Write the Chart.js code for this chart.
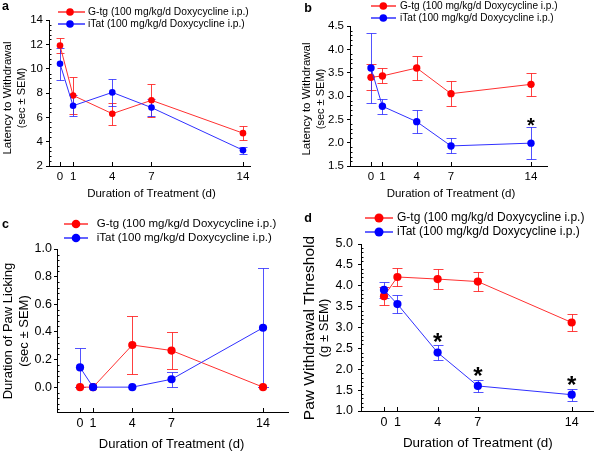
<!DOCTYPE html>
<html><head><meta charset="utf-8">
<script src="https://cdn.jsdelivr.net/npm/chart.js@4/dist/chart.umd.min.js"></script>
<style>
html,body{margin:0;padding:0;background:#fff;}
#wrap{position:relative;width:600px;height:453px;overflow:hidden;background:#fff;}
canvas{position:absolute;}
</style></head><body>
<div id="wrap">
<canvas id="pa" width="300" height="210" style="left:0;top:0"></canvas>
<canvas id="pb" width="300" height="210" style="left:300px;top:0"></canvas>
<canvas id="pc" width="300" height="243" style="left:0;top:210px"></canvas>
<canvas id="pd" width="300" height="243" style="left:300px;top:210px"></canvas>
</div>
<script>
// ---------- DATA ----------
const days = [0, 1, 4, 7, 14];
const seriesLabels = ['G-tg (100 mg/kg/d Doxycycline i.p.)', 'iTat (100 mg/kg/d Doxycycline i.p.)'];
const xTitle = 'Duration of Treatment (d)';

// a: latency to withdrawal
const aGtgMean = [11.9, 7.8, 6.3, 7.4, 4.7];
const aGtgSem  = [0.6, 1.5, 0.9, 1.35, 0.55];
const aItatMean = [10.4, 6.95, 8.05, 6.8, 3.3];
const aItatSem  = [1.3, 0.85, 1.1, 0.7, 0.28];
const aYTicks = [2, 4, 6, 8, 10, 12, 14];
const aYTitle = ['Latency to Withdrawal', '(sec \u00b1 SEM)'];

// b: latency to withdrawal
const bGtgMean = [3.4, 3.43, 3.6, 3.05, 3.25];
const bGtgSem  = [0.28, 0.16, 0.25, 0.27, 0.24];
const bItatMean = [3.6, 2.78, 2.45, 1.93, 1.99];
const bItatSem  = [0.76, 0.165, 0.25, 0.16, 0.34];
const bYTicks = [1.5, 2.0, 2.5, 3.0, 3.5, 4.0, 4.5];
const bStars = [14];
const bYTitle = ['Latency to Withdrawal', '(sec \u00b1 SEM)'];

// c: duration of paw licking
const cGtgMean = [0, 0, 0.305, 0.265, 0];
const cGtgSem  = [0, 0, 0.21, 0.135, 0];
const cItatMean = [0.143, 0, 0, 0.057, 0.43];
const cItatSem  = [0.143, 0, 0, 0.055, 0.43];
const cYTicks = [0.0, 0.2, 0.4, 0.6, 0.8, 1.0];
const cYTitle = ['Duration of Paw Licking', '(sec \u00b1 SEM)'];

// d: paw withdrawal threshold
const dGtgMean = [3.75, 4.21, 4.16, 4.1, 3.12];
const dGtgSem  = [0.22, 0.22, 0.23, 0.23, 0.21];
const dItatMean = [3.9, 3.56, 2.4, 1.6, 1.39];
const dItatSem  = [0.2, 0.22, 0.18, 0.15, 0.14];
const dYTicks = [1.0, 1.5, 2.0, 2.5, 3.0, 3.5, 4.0, 4.5, 5.0];
const dStars = [4, 7, 14];
const dYTitle = ['Paw Withdrawal Threshold', '(g \u00b1 SEM)'];

// ---------- STYLE ----------
const FONT = '"Liberation Sans", Arial, Helvetica, sans-serif';
const RED = '#ff0000', BLUE = '#0000ff';
const RED_LINE = '#ff3030', BLUE_LINE = '#3030ff';
const RED_ERR = 'rgba(255,30,30,0.85)', BLUE_ERR = 'rgba(40,40,255,0.8)';

const panelPlugin = {
  id: 'panel',
  beforeDatasetsDraw(chart, args, o) {
    const ctx = chart.ctx, xs = chart.scales.x, ys = chart.scales.y, ca = chart.chartArea;
    ctx.save();
    ctx.strokeStyle = '#000'; ctx.lineWidth = 1;
    // minor inward ticks on y axis
    const yt = o.yTicks, step = (yt[1] - yt[0]) / o.minorDiv;
    const k0 = Math.ceil((ys.min - yt[0]) / step - 1e-6), k1 = Math.floor((ys.max - yt[0]) / step + 1e-6);
    ctx.beginPath();
    for (let k = k0; k <= k1; k++) {
      if (((k % o.minorDiv) + o.minorDiv) % o.minorDiv === 0) continue;
      const py = Math.round(ys.getPixelForValue(yt[0] + k * step)) + 0.5;
      ctx.moveTo(ca.left, py); ctx.lineTo(ca.left + 2.5, py);
    }
    // inward x ticks
    for (const v of days) {
      const px = Math.round(xs.getPixelForValue(v)) + 0.5;
      ctx.moveTo(px, ca.bottom); ctx.lineTo(px, ca.bottom - 4);
    }
    ctx.stroke();
    // error bars
    chart.data.datasets.forEach((ds, i) => {
      ctx.strokeStyle = o.errColors[i]; ctx.lineWidth = 1;
      ctx.beginPath();
      ds.data.forEach((p, j) => {
        const s = o.sems[i][j];
        if (!s) return;
        const px = Math.round(xs.getPixelForValue(p.x)) + 0.5;
        const t = Math.round(ys.getPixelForValue(p.y + s)) + 0.5;
        const b = Math.round(ys.getPixelForValue(p.y - s)) + 0.5;
        ctx.moveTo(px, t); ctx.lineTo(px, b);
        ctx.moveTo(px - o.capW / 2, t); ctx.lineTo(px + o.capW / 2, t);
        ctx.moveTo(px - o.capW / 2, b); ctx.lineTo(px + o.capW / 2, b);
      });
      ctx.stroke();
    });
    ctx.restore();
  },
  afterDraw(chart, args, o) {
    const ctx = chart.ctx, xs = chart.scales.x, ys = chart.scales.y, ca = chart.chartArea;
    ctx.save();
    ctx.fillStyle = '#000';
    // panel letter
    ctx.font = 'bold ' + o.letterSize + 'px ' + FONT;
    ctx.textAlign = 'center'; ctx.textBaseline = 'middle';
    ctx.fillText(o.letter, o.letterX, o.letterY);
    // legend
    const cols = [[RED_LINE, RED], [BLUE_LINE, BLUE]];
    ctx.font = o.legendSize + 'px ' + FONT;
    ctx.textAlign = 'left';
    chart.data.datasets.forEach((ds, i) => {
      const yy = o.legendRows[i];
      ctx.strokeStyle = cols[i][0]; ctx.lineWidth = 1.5;
      ctx.beginPath(); ctx.moveTo(o.legendX0, yy); ctx.lineTo(o.legendX1, yy); ctx.stroke();
      ctx.fillStyle = cols[i][1];
      ctx.beginPath(); ctx.arc(o.legendDotX, yy, o.legendDotR, 0, Math.PI * 2); ctx.fill();
      ctx.fillStyle = '#000';
      ctx.fillText(ds.label, o.legendTextX, yy);
    });
    // x title
    ctx.textAlign = 'center'; ctx.textBaseline = 'middle';
    ctx.font = o.xTitleSize + 'px ' + FONT;
    ctx.fillText(xTitle, xs.getPixelForValue(7), o.xTitleY);
    // y title (two lines)
    o.yTitle.forEach((t, i) => {
      ctx.save();
      ctx.translate(o.yTitleX[i], o.yTitleCY);
      ctx.rotate(-Math.PI / 2);
      ctx.font = o.yTitleSize[i] + 'px ' + FONT;
      ctx.fillText(t, 0, 0);
      ctx.restore();
    });
    // significance stars above iTat error bars
    if (o.stars) {
      ctx.font = 'bold ' + o.starSize + 'px ' + FONT;
      ctx.textAlign = 'center'; ctx.textBaseline = 'alphabetic';
      const m = ctx.measureText('*');
      const ds = chart.data.datasets[1];
      o.stars.forEach(d => {
        const j = ds.data.findIndex(p => p.x === d);
        const top = ys.getPixelForValue(ds.data[j].y + o.sems[1][j]);
        const cy = top - o.starGap;
        const base = cy + (m.actualBoundingBoxAscent - m.actualBoundingBoxDescent) / 2;
        ctx.fillText('*', xs.getPixelForValue(d), base);
      });
    }
    ctx.restore();
  }
};

function makePanel(id, cfg) {
  const el = document.getElementById(id);
  const W = el.width, H = el.height;
  const mk = (means, color, line, label, order) => ({
    label, order,
    data: days.map((d, i) => ({ x: d, y: means[i] })),
    borderColor: line, borderWidth: 1,
    pointRadius: cfg.pointR, pointHoverRadius: cfg.pointR,
    pointBackgroundColor: color, pointBorderWidth: 0,
    clip: false, tension: 0
  });
  return new Chart(el, {
    type: 'line',
    data: { datasets: [
      mk(cfg.gMean, RED, RED_LINE, seriesLabels[0], 1),
      mk(cfg.iMean, BLUE, BLUE_LINE, seriesLabels[1], 0)
    ] },
    plugins: [panelPlugin],
    options: {
      responsive: false, animation: false, devicePixelRatio: 1,
      layout: { padding: { top: cfg.T, right: W - cfg.R, bottom: 0, left: 0 } },
      plugins: {
        legend: { display: false }, tooltip: { enabled: false },
        panel: {
          letter: cfg.letter, letterX: cfg.letterX, letterY: cfg.letterY, letterSize: cfg.letterSize,
          legendRows: cfg.legendRows, legendX0: cfg.legendX0, legendX1: cfg.legendX1,
          legendDotX: cfg.legendDotX, legendDotR: cfg.legendDotR, legendTextX: cfg.legendTextX,
          legendSize: cfg.legendSize,
          xTitleY: cfg.xTitleY, xTitleSize: cfg.xTitleSize,
          yTitle: cfg.yTitle, yTitleX: cfg.yTitleX, yTitleCY: cfg.yTitleCY, yTitleSize: cfg.yTitleSize,
          yTicks: cfg.yTicks, minorDiv: cfg.minorDiv,
          sems: [cfg.gSem, cfg.iSem], errColors: [RED_ERR, BLUE_ERR], capW: cfg.capW,
          stars: cfg.stars, starSize: cfg.starSize, starGap: cfg.starGap
        }
      },
      scales: {
        x: {
          type: 'linear', min: cfg.xMin, max: cfg.xMax,
          afterBuildTicks: s => { s.ticks = days.map(v => ({ value: v })); },
          afterFit: s => { s.height = H - cfg.B; },
          grid: { display: false, drawOnChartArea: false, drawTicks: false },
          border: { display: true, color: '#000', width: 1 },
          ticks: { color: '#000', font: { family: FONT, size: cfg.tickSize }, padding: cfg.xPad,
                   autoSkip: false, maxRotation: 0, callback: v => String(v) }
        },
        y: {
          type: 'linear', min: cfg.yMin, max: cfg.yMax,
          afterBuildTicks: s => { s.ticks = cfg.yTicks.map(v => ({ value: v })); },
          afterFit: s => { s.width = cfg.L; },
          grid: { display: true, drawOnChartArea: false, drawTicks: true, tickLength: 3, color: '#000', lineWidth: 1 },
          border: { display: true, color: '#000', width: 1 },
          ticks: { color: '#000', font: { family: FONT, size: cfg.tickSize }, padding: cfg.yPad,
                   autoSkip: false, callback: v => Number(v).toFixed(cfg.dec) }
        }
      }
    }
  });
}

makePanel('pa', {
  letter: 'a', letterX: 5.5, letterY: 7, letterSize: 12.5,
  gMean: aGtgMean, gSem: aGtgSem, iMean: aItatMean, iSem: aItatSem,
  L: 49, R: 250, T: 20, B: 166, xMin: -0.842, xMax: 14.536, yMin: 2, yMax: 14,
  yTicks: aYTicks, dec: 0, minorDiv: 5, tickSize: 11.5, xPad: 4, yPad: 3,
  pointR: 3.3, capW: 8,
  legendRows: [12, 24], legendX0: 58, legendX1: 85, legendDotX: 70, legendDotR: 3.8, legendTextX: 88, legendSize: 10.3,
  xTitleY: 194, xTitleSize: 11.5,
  yTitle: aYTitle, yTitleX: [8, 22], yTitleCY: 98, yTitleSize: [11.5, 11]
});
makePanel('pb', {
  letter: 'b', letterX: 8, letterY: 9, letterSize: 12.5,
  gMean: bGtgMean, gSem: bGtgSem, iMean: bItatMean, iSem: bItatSem,
  L: 50, R: 247, T: 26, B: 166, xMin: -1.837, xMax: 15.4, yMin: 1.5, yMax: 4.5,
  yTicks: bYTicks, dec: 1, minorDiv: 5, tickSize: 11.5, xPad: 4, yPad: 3,
  pointR: 3.7, capW: 10,
  legendRows: [6, 18], legendX0: 71, legendX1: 96, legendDotX: 83.3, legendDotR: 3.8, legendTextX: 100, legendSize: 10.1,
  xTitleY: 194, xTitleSize: 11.5,
  yTitle: bYTitle, yTitleX: [7.3, 20.7], yTitleCY: 99, yTitleSize: [11.5, 11],
  stars: bStars, starSize: 20, starGap: 5
});
makePanel('pc', {
  letter: 'c', letterX: 5.5, letterY: 15, letterSize: 12.5,
  gMean: cGtgMean, gSem: cGtgSem, iMean: cItatMean, iSem: cItatSem,
  L: 57, R: 288, T: 39, B: 202, xMin: -1.76, xMax: 15.91, yMin: -0.18, yMax: 1.0,
  yTicks: cYTicks, dec: 1, minorDiv: 5, tickSize: 12.5, xPad: 4, yPad: 2,
  pointR: 4.1, capW: 11,
  legendRows: [14, 28], legendX0: 64, legendX1: 88, legendDotX: 76, legendDotR: 4.3, legendTextX: 96.7, legendSize: 11.5,
  xTitleY: 234, xTitleSize: 13,
  yTitle: cYTitle, yTitleX: [8.3, 24], yTitleCY: 121, yTitleSize: [13, 13]
});
makePanel('pd', {
  letter: 'd', letterX: 8, letterY: 9, letterSize: 12.5,
  gMean: dGtgMean, gSem: dGtgSem, iMean: dItatMean, iSem: dItatSem,
  L: 61, R: 293, T: 34, B: 201, xMin: -1.715, xMax: 15.59, yMin: 1.0, yMax: 5.0,
  yTicks: dYTicks, dec: 1, minorDiv: 5, tickSize: 12.5, xPad: 4, yPad: 5,
  pointR: 4.1, capW: 10,
  legendRows: [8, 22], legendX0: 65, legendX1: 93, legendDotX: 79, legendDotR: 4.5, legendTextX: 97, legendSize: 12,
  xTitleY: 233, xTitleSize: 13.4,
  yTitle: dYTitle, yTitleX: [10, 24], yTitleCY: 118, yTitleSize: [15.5, 13],
  stars: dStars, starSize: 24, starGap: 8
});
</script>
</body></html>
